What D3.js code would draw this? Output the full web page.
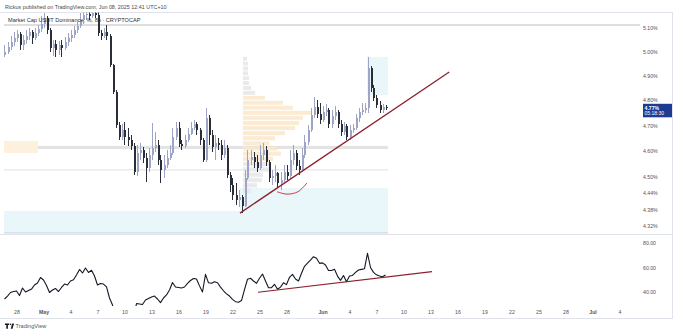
<!DOCTYPE html>
<html><head><meta charset="utf-8">
<script src="https://cdn.jsdelivr.net/npm/d3@7"></script>
<style>body{margin:0;background:#fff}svg{display:block;font-family:"Liberation Sans",Arial,sans-serif}</style>
</head><body><svg id="c" width="679" height="336"></svg>
<script>
// ---- data ----
const startTime = "2025-04-26T16:00:00Z";
const intervalHours = 8;
const opens = [4.986,4.998,5.019,5.040,5.057,5.074,5.028,5.049,5.066,5.083,
 5.057,5.079,5.096,5.117,5.143,5.091,5.015,5.032,5.007,5.028,
 5.015,5.040,5.057,5.070,5.091,5.109,5.134,5.156,5.160,5.152,
 5.164,5.156,5.079,5.066,5.083,5.066,4.944,4.834,4.701,4.655,
 4.682,4.655,4.643,4.620,4.520,4.593,4.604,4.573,4.535,4.585,
 4.612,4.623,4.566,4.528,4.547,4.573,4.593,4.655,4.690,4.627,
 4.620,4.643,4.666,4.690,4.705,4.682,4.643,4.566,4.729,4.662,
 4.616,4.631,4.623,4.585,4.612,4.509,4.471,4.434,4.415,4.426,
 4.393,4.497,4.566,4.577,4.558,4.535,4.585,4.604,4.558,4.497,
 4.505,4.516,4.479,4.490,4.520,4.505,4.566,4.593,4.543,4.528,
 4.585,4.635,4.682,4.741,4.773,4.745,4.721,4.753,4.761,4.705,
 4.737,4.753,4.705,4.674,4.698,4.655,4.682,4.690,4.729,4.753,
 4.761,4.769,4.932,4.850,4.809,4.781,4.761,4.773];
const highs = [5.028,5.040,5.066,5.083,5.091,5.083,5.070,5.091,5.100,5.091,
 5.100,5.113,5.152,5.164,5.152,5.100,5.049,5.049,5.045,5.049,
 5.062,5.079,5.091,5.109,5.126,5.164,5.173,5.173,5.173,5.177,
 5.173,5.169,5.091,5.100,5.113,5.074,4.948,4.842,4.713,4.705,
 4.713,4.690,4.662,4.631,4.623,4.631,4.616,4.593,4.612,4.709,
 4.674,4.643,4.585,4.585,4.604,4.623,4.690,4.713,4.713,4.643,
 4.662,4.690,4.713,4.721,4.713,4.690,4.651,4.769,4.741,4.682,
 4.662,4.651,4.643,4.643,4.623,4.520,4.497,4.479,4.452,4.434,
 4.528,4.604,4.604,4.596,4.585,4.623,4.631,4.620,4.566,4.528,
 4.547,4.520,4.520,4.547,4.547,4.604,4.623,4.604,4.566,4.612,
 4.662,4.701,4.769,4.813,4.801,4.789,4.777,4.785,4.769,4.761,
 4.777,4.761,4.721,4.713,4.705,4.701,4.705,4.745,4.769,4.789,
 4.789,4.978,4.940,4.862,4.821,4.797,4.785,4.781];
const lows = [4.978,4.990,5.007,5.024,5.040,5.007,5.007,5.032,5.049,5.032,
 5.049,5.066,5.083,5.100,5.074,4.998,4.982,4.978,4.986,4.978,
 5.007,5.024,5.040,5.057,5.079,5.100,5.117,5.134,5.134,5.143,
 5.143,5.066,5.049,5.057,5.049,4.936,4.825,4.690,4.643,4.643,
 4.623,4.620,4.604,4.509,4.505,4.566,4.554,4.482,4.520,4.566,
 4.596,4.547,4.479,4.497,4.535,4.566,4.585,4.643,4.616,4.604,
 4.612,4.635,4.662,4.682,4.662,4.623,4.558,4.558,4.623,4.596,
 4.566,4.604,4.566,4.573,4.497,4.445,4.415,4.397,4.389,4.367,
 4.389,4.490,4.547,4.535,4.520,4.528,4.566,4.543,4.482,4.471,
 4.482,4.460,4.452,4.482,4.490,4.497,4.547,4.528,4.509,4.520,
 4.573,4.623,4.674,4.729,4.729,4.705,4.713,4.737,4.690,4.690,
 4.721,4.690,4.658,4.662,4.643,4.643,4.670,4.682,4.713,4.741,
 4.749,4.749,4.834,4.797,4.769,4.749,4.749,4.761];
const closes = [4.998,5.019,5.040,5.057,5.074,5.028,5.049,5.066,5.083,5.057,
 5.079,5.096,5.117,5.143,5.091,5.015,5.032,5.007,5.028,5.015,
 5.040,5.057,5.070,5.091,5.109,5.134,5.156,5.160,5.152,5.164,
 5.156,5.079,5.066,5.083,5.066,4.944,4.834,4.701,4.655,4.682,
 4.655,4.643,4.620,4.520,4.593,4.604,4.573,4.535,4.585,4.612,
 4.623,4.566,4.528,4.547,4.573,4.593,4.655,4.690,4.627,4.620,
 4.643,4.666,4.690,4.705,4.682,4.643,4.566,4.729,4.662,4.616,
 4.631,4.623,4.585,4.612,4.509,4.471,4.434,4.415,4.426,4.393,
 4.497,4.566,4.577,4.558,4.535,4.585,4.604,4.558,4.497,4.505,
 4.516,4.479,4.490,4.520,4.505,4.566,4.593,4.543,4.528,4.585,
 4.635,4.682,4.741,4.773,4.745,4.721,4.753,4.761,4.705,4.737,
 4.753,4.705,4.674,4.698,4.655,4.682,4.690,4.729,4.753,4.761,
 4.769,4.932,4.850,4.809,4.781,4.761,4.773,4.769];
const rsi = [34.3,36.7,39.6,40.4,40.8,37.1,43.3,40.0,41.2,42.4,
 45.7,47.3,51.8,49.8,45.3,39.6,41.6,42.9,40.4,43.7,
 46.5,45.7,49.0,50.0,53.9,58.4,55.5,59.6,55.9,57.7,
 53.1,45.7,46.9,46.5,44.1,35.1,29.4,22.0,20.0,23.0,
 22.0,21.0,23.0,19.0,30.6,30.2,29.8,33.5,34.7,35.9,
 36.7,34.3,31.3,35.1,37.6,41.6,47.8,44.1,43.7,43.3,
 44.1,47.1,49.4,51.0,50.6,45.0,40.0,54.4,47.5,47.1,
 48.4,47.6,44.0,41.0,38.5,36.7,34.0,32.1,31.6,33.0,
 42.0,50.4,51.2,49.0,47.1,51.2,54.7,49.0,43.5,43.5,
 46.3,42.2,44.0,47.6,46.0,52.0,54.4,50.6,49.0,55.3,
 61.0,63.5,66.0,68.8,67.5,63.4,63.8,62.0,57.5,57.5,
 58.5,53.0,49.5,53.5,48.4,53.0,53.5,56.0,58.0,58.5,
 59.0,71.6,60.0,56.0,54.0,53.0,52.5,53.9];

const priceTicks = [5.10,5.00,4.90,4.80,4.70,4.60,4.50,4.44,4.38,4.32];
const rsiTicks = [80,60,40];
const xTickDates = ["2025-04-28","2025-05-01","2025-05-04","2025-05-07","2025-05-10","2025-05-13","2025-05-16","2025-05-19","2025-05-22","2025-05-25","2025-05-28","2025-06-01","2025-06-04","2025-06-07","2025-06-10","2025-06-13","2025-06-16","2025-06-19","2025-06-22","2025-06-25","2025-06-28","2025-07-01","2025-07-04"];
const xTickLabels = ["28","May","4","7","10","13","16","19","22","25","28","Jun","4","7","10","13","16","19","22","25","28","Jul","4"];
const monthLabels = ["May","Jun","Jul"];

// volume profile rows (upper price bound, relative volume, value area flag)
const vpTop    = [4.98,4.96,4.94,4.92,4.90,4.88,4.86,4.84,4.82,4.80,4.78,4.76,4.74,4.72,4.70,4.68,4.66,4.64,4.62,4.60,4.58,4.56,4.54,4.52,4.50,4.48,4.46];
const vpVolume = [4,5,5,5,6,6,8,12,22,40,50,68,60,56,52,42,32,26,34,38,30,28,28,20,19,14,8];
const vpValue  = [0,0,0,0,0,0,0,0,1,1,1,1,1,1,1,1,1,1,1,1,1,0,0,0,0,0,0];
const vpStart = "2025-05-23T04:00:00Z";

// zones drawn on the chart (time range, price range, kind)
const zoneKinds = ["support","support","resistance","level","level","pivot"];
const zoneT0 = ["2025-04-26T00:00:00Z","2025-05-22T20:00:00Z","2025-06-05T22:40:00Z","2025-04-26T00:00:00Z","2025-04-26T00:00:00Z","2025-04-26T00:00:00Z"];
const zoneT1 = ["2025-06-08T07:00:00Z","2025-06-08T07:00:00Z","2025-06-08T07:00:00Z","2025-06-08T07:00:00Z","2025-06-08T07:00:00Z","2025-04-30T09:20:00Z"];
const zoneP0 = [4.375,4.460,4.978,4.620,4.530,4.639];
const zoneP1 = [4.295,4.375,4.821,4.608,4.526,4.593];
const topLinePrice = 5.113;

// drawings
const trendT = ["2025-05-22T20:00:00Z","2025-06-15T02:00:00Z"];
const trendP = [4.367,4.915];
const rsiTrendT = ["2025-05-24T20:00:00Z","2025-06-13T04:00:00Z"];
const rsiTrendV = [39.8,56.6];
const arcT = ["2025-05-26T22:40:00Z","2025-05-28T01:20:00Z","2025-05-29T06:40:00Z","2025-05-30T06:40:00Z"];
const arcP = [4.446,4.437,4.446,4.479];
const lastPrice = 4.77;

// ---- drawing ----
const svg = d3.select("#c");
const t0 = new Date(startTime);
const candles = closes.map((c,i)=>({t:d3.utcHour.offset(t0,i*intervalHours),o:opens[i],h:highs[i],l:lows[i],c,r:rsi[i]}));

const x = d3.scaleUtc().domain([new Date("2025-04-28T00:00:00Z"),new Date("2025-07-04T00:00:00Z")]).range([16.5,619.5]);
const y = d3.scaleLog().domain([4.32,5.10]).range([226,28]);
const yr = d3.scaleLinear().domain([40,80]).range([292,243]);
const vw = d3.scaleLinear().domain([0,d3.max(vpVolume)]).range([0,68]);

const defs = svg.append("defs");
defs.append("clipPath").attr("id","cm").append("rect").attr("x",4).attr("y",12.5).attr("width",636).attr("height",221.5);
defs.append("clipPath").attr("id","cr").append("rect").attr("x",4).attr("y",235).attr("width",636).attr("height",71);

const grid = "#e0e3eb";
// frame
svg.append("line").attr("x1",0).attr("x2",672).attr("y1",12.5).attr("y2",12.5).attr("stroke",grid);
svg.append("line").attr("x1",672.5).attr("x2",672.5).attr("y1",12).attr("y2",319).attr("stroke",grid);
svg.append("line").attr("x1",0).attr("x2",672).attr("y1",318.5).attr("y2",318.5).attr("stroke",grid);
svg.append("line").attr("x1",0).attr("x2",672).attr("y1",234.5).attr("y2",234.5).attr("stroke",grid);

const main = svg.append("g").attr("clip-path","url(#cm)");
const zoneFill = {support:"#e9f6fa",resistance:"#e9f6fa",level:"#e3e3e3",pivot:"#fdf0dc"};
zoneKinds.forEach((k,i)=>{
  const xa=x(new Date(zoneT0[i])), xb=x(new Date(zoneT1[i]));
  const ya=y(zoneP0[i]), yb=y(zoneP1[i]);
  main.append("rect").attr("x",xa).attr("y",Math.min(ya,yb)).attr("width",xb-xa)
    .attr("height",Math.max(1,Math.abs(yb-ya))).attr("fill",zoneFill[k]);
});
// bottom edge of support zone
main.append("line").attr("x1",x(new Date(zoneT0[0]))).attr("x2",x(new Date(zoneT1[0])))
  .attr("y1",y(zoneP1[0])).attr("y2",y(zoneP1[0])).attr("stroke","#c9d3da").attr("stroke-width",1);
// top horizontal line
main.append("line").attr("x1",0).attr("x2",640).attr("y1",y(topLinePrice)).attr("y2",y(topLinePrice))
  .attr("stroke","#dedede").attr("stroke-width",2);

// volume profile
const vpx = x(new Date(vpStart));
vpTop.forEach((p,i)=>{
  const ya=y(p), yb=y(p-0.02);
  main.append("rect").attr("x",vpx).attr("y",ya+0.5).attr("width",vw(vpVolume[i]))
    .attr("height",Math.max(0.5,yb-ya-1))
    .attr("fill",vpValue[i]?"#fbe6c8":"#e6e6ea").attr("fill-opacity",vpValue[i]?0.8:0.85);
});

// candles
const bull="#9ea4c6", bear="#2a2e39";
const cg = main.append("g").attr("shape-rendering","crispEdges");
cg.selectAll("line").data(candles).join("line")
  .attr("x1",d=>Math.round(x(d.t))+0.5).attr("x2",d=>Math.round(x(d.t))+0.5)
  .attr("y1",d=>y(d.h)).attr("y2",d=>y(d.l))
  .attr("stroke",d=>d.c>=d.o?bull:bear).attr("stroke-width",1);
cg.selectAll("rect").data(candles).join("rect")
  .attr("x",d=>Math.round(x(d.t))-0.5).attr("width",2)
  .attr("y",d=>y(Math.max(d.o,d.c))).attr("height",d=>Math.max(1,Math.abs(y(d.o)-y(d.c))))
  .attr("fill",d=>d.c>=d.o?bull:bear);

// trendline & arc
main.append("line").attr("x1",x(new Date(trendT[0]))).attr("y1",y(trendP[0]))
  .attr("x2",x(new Date(trendT[1]))).attr("y2",y(trendP[1]))
  .attr("stroke","#8c1f2e").attr("stroke-width",1.3);
main.append("path").datum(arcT.map((t,i)=>[x(new Date(t)),y(arcP[i])]))
  .attr("d",d3.line().curve(d3.curveCatmullRom)).attr("fill","none")
  .attr("stroke","#d9363e").attr("stroke-width",1);

// legend title
svg.append("text").attr("x",8).attr("y",22).attr("font-size",5.6).attr("fill","#2a2e39")
  .text("Market Cap USDT Dominance, %, 8h · CRYPTOCAP");

// price axis
const pa = svg.append("g").attr("transform","translate(643,0)")
  .call(d3.axisRight(y).tickValues(priceTicks).tickSize(0).tickPadding(0).tickFormat(d=>d.toFixed(2)+"%"));
pa.select(".domain").remove();
pa.selectAll("text").attr("font-size",5.2).attr("fill","#50535e").attr("font-family","Liberation Sans, Arial, sans-serif");

// current price label
const ly = y(lastPrice);
svg.append("rect").attr("x",643).attr("y",ly-4).attr("width",29).attr("height",13.5).attr("fill","#1d3b90");
svg.append("text").attr("x",644.5).attr("y",ly+1.8).attr("font-size",5.2).attr("font-weight","bold").attr("fill","#fff")
  .text(lastPrice.toFixed(2)+"%");
svg.append("text").attr("x",644.5).attr("y",ly+7.6).attr("font-size",5).attr("fill","#fff").text("05:18:30");

// RSI pane
const rp = svg.append("g").attr("clip-path","url(#cr)");
rp.append("path").datum(candles).attr("fill","none").attr("stroke","#131722").attr("stroke-width",1.1)
  .attr("stroke-linejoin","round")
  .attr("d",d3.line().x(d=>x(d.t)).y(d=>yr(d.r)));
rp.append("line").attr("x1",x(new Date(rsiTrendT[0]))).attr("y1",yr(rsiTrendV[0]))
  .attr("x2",x(new Date(rsiTrendT[1]))).attr("y2",yr(rsiTrendV[1]))
  .attr("stroke","#8c1f2e").attr("stroke-width",1.2);
const ra = svg.append("g").attr("transform","translate(643,0)")
  .call(d3.axisRight(yr).tickValues(rsiTicks).tickSize(0).tickPadding(0).tickFormat(d=>d.toFixed(2)));
ra.select(".domain").remove();
ra.selectAll("text").attr("font-size",5.2).attr("fill","#50535e").attr("font-family","Liberation Sans, Arial, sans-serif");

// time axis
const xa = svg.append("g").attr("transform","translate(0,310.5)")
  .call(d3.axisBottom(x).tickValues(xTickDates.map(s=>new Date(s+"T00:00:00Z"))).tickSize(0).tickPadding(0)
    .tickFormat((d,i)=>xTickLabels[i]));
xa.select(".domain").remove();
xa.selectAll("text").attr("font-size",5.2).attr("fill","#50535e").attr("font-family","Liberation Sans, Arial, sans-serif")
  .attr("font-weight",(d,i)=>monthLabels.includes(xTickLabels[i])?"bold":"normal");

// header
svg.append("text").attr("x",5).attr("y",8.5).attr("font-size",5.4).attr("fill","#4a4a4a")
  .text("Rickus published on TradingView.com, Jun 08, 2025 12:41 UTC+10");

// TradingView logo
const lg = svg.append("g").attr("fill","#131722");
lg.append("path").attr("d","M5,323.5h4.2v1.6h-1.3v3.6h-1.6v-3.6h-1.3z");
lg.append("circle").attr("cx",10.6).attr("cy",324.3).attr("r",0.8);
lg.append("path").attr("d","M12.3,323.5h1.8l-1.6,5.2h-1.8z");
svg.append("text").attr("x",15.5).attr("y",328.4).attr("font-size",5.6).attr("fill","#50535e").text("TradingView");
</script></body></html>
